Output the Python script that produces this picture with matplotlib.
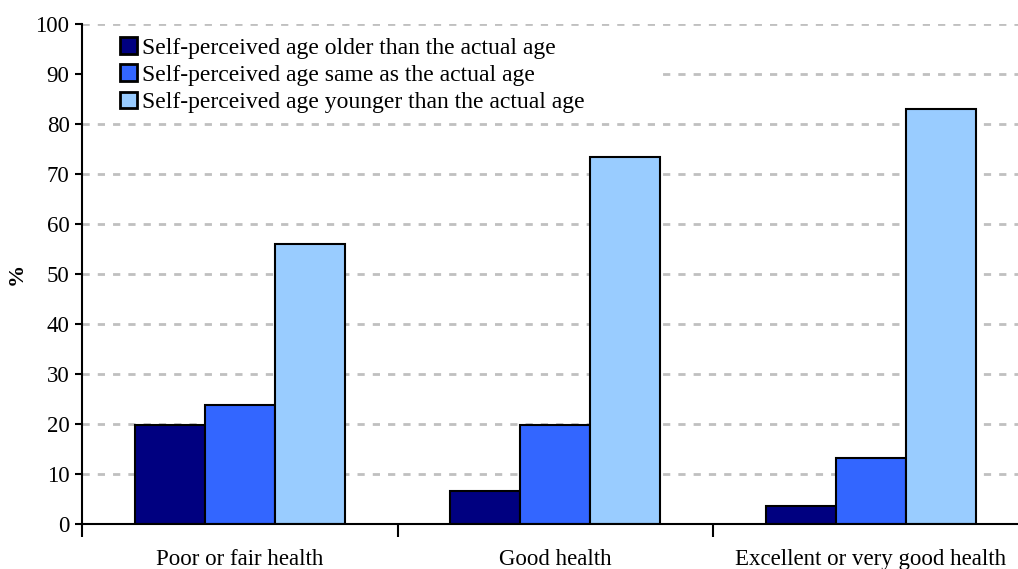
import matplotlib.pyplot as plt
from matplotlib.patches import Rectangle
import numpy as np

categories = ["Poor or fair health", "Good health", "Excellent or very good health"]
series_names = ["Self-perceived age older than the actual age",
                "Self-perceived age same as the actual age",
                "Self-perceived age younger than the actual age"]
older = [19.8, 6.6, 3.6]
same = [23.8, 19.8, 13.3]
younger = [56.1, 73.5, 83.0]
colors = ["#000080", "#3366FF", "#99CCFF"]
yticks = list(range(0, 101, 10))

plt.rcParams['font.family'] = ['Liberation Serif', 'DejaVu Serif']

fig = plt.figure(figsize=(10.18, 5.69), dpi=100)
# axes runs a little past the right edge, like the original
ax = fig.add_axes([82 / 1018, 45 / 569, 946.5 / 1018, 500 / 569])
ax.set_axisbelow(True)

x = np.arange(len(categories))
width = 2 / 9
for i, (vals, name) in enumerate(zip([older, same, younger], series_names)):
    ax.bar(x + (i - 1) * width, vals, width, color=colors[i], edgecolor="black",
           linewidth=1.5, label=name, zorder=3)

ax.set_xlim(-0.5, 2.5)
ax.set_ylim(0, 100)
ax.set_yticks(yticks)
ax.yaxis.grid(True, color="#C0C0C0", linestyle=(0, (2.6, 2.9)), linewidth=2)

# white box behind the legend hides the 90 gridline
ax.add_patch(Rectangle((0, 0.815), 0.614, 0.17, transform=ax.transAxes,
                       facecolor="white", edgecolor="none", zorder=1))

ax.set_xticks(x)
ax.set_xticklabels(categories)
ax.set_xticks(np.arange(-0.5, 3.0, 1.0), minor=True)
ax.tick_params(axis="x", which="major", length=0, pad=18, labelsize=16.5)
ax.tick_params(axis="x", which="minor", length=9, width=1.5, direction="out")
ax.tick_params(axis="y", length=5, width=1.5, direction="out", labelsize=16.5, pad=4)

for s in ["top", "right"]:
    ax.spines[s].set_visible(False)
for s in ["left", "bottom"]:
    ax.spines[s].set_linewidth(1.5)
    ax.spines[s].set_zorder(4)

ax.set_ylabel("%", fontsize=16, fontweight="bold", labelpad=6)

leg = ax.legend(loc="upper left", bbox_to_anchor=(0.03, 0.993), frameon=False, fontsize=17,
                handlelength=0.72, handleheight=0.72, handletextpad=0.2, labelspacing=0.24,
                borderaxespad=0)
for h in leg.legend_handles:
    h.set_linewidth(2)

fig.savefig("out.png")
